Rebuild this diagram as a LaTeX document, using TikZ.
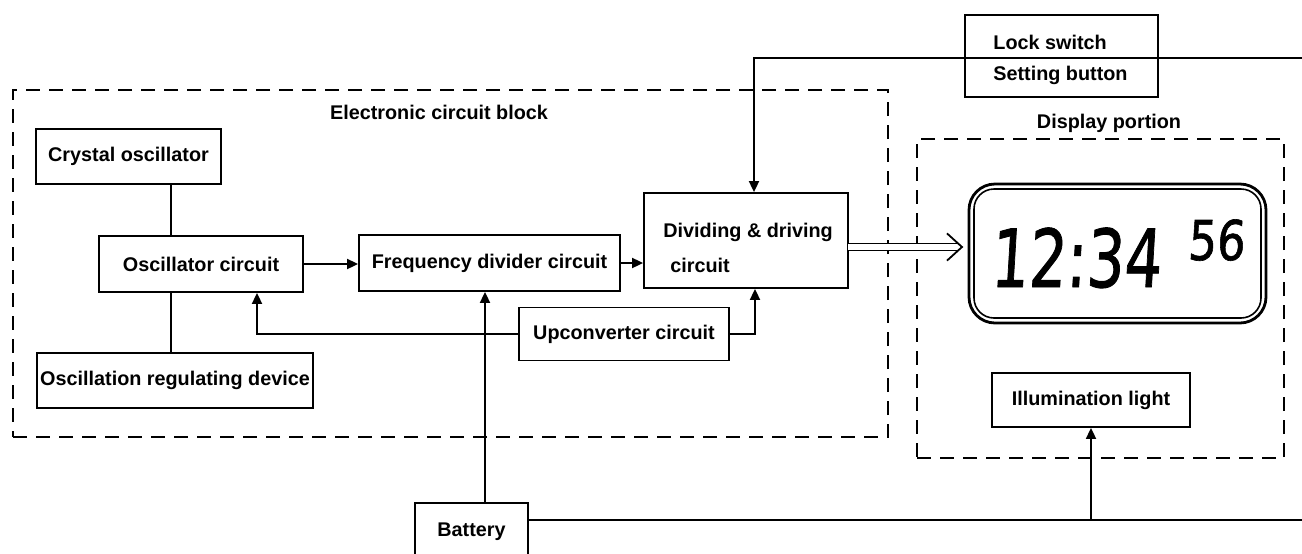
\documentclass[tikz,border=0pt]{standalone}
\usepackage{fontspec}
\setmainfont{Liberation Sans}
\newfontfamily\lcdfont[FakeSlant=0.08,FakeBold=1.2]{DejaVu Sans}
\usetikzlibrary{arrows.meta,calc}
\begin{document}
\begin{tikzpicture}[x=0.5pt,y=-0.5pt,
 every node/.style={font=\fontsize{9.9}{11.8}\selectfont\bfseries},
 box/.style={draw,line width=0.9pt,inner sep=0pt},
 dbox/.style={draw,line width=0.8pt,dash pattern=on 7pt off 4.5pt},
 conn/.style={line width=0.9pt},
 arr/.style={conn,-{Triangle[length=5.5pt,width=5pt]}},
 dblshaft/.style={double,double distance=2.6pt,line width=0.8pt},
 lbl/.style={inner sep=0pt},
 lcdtext/.style={anchor=base west,inner sep=0pt},
]
\useasboundingbox (0,0) rectangle (1302,553);

% dashed groups
\node[dbox,minimum width=437.5pt,minimum height=173.5pt] (ecb) at (450.5,263.5) {};
\node[lbl] (ecbt) at (439,112) {Electronic circuit block};
\node[dbox,minimum width=183.5pt,minimum height=159.5pt] (disp) at (1100.5,298.5) {};
\node[lbl] (dispt) at (1109,123) {Display portion};

% blocks
\node[box,minimum width=92.5pt,minimum height=27.5pt] (crys) at (128.5,156.5) {Crystal oscillator};
\node[box,minimum width=102pt,minimum height=28pt] (osc) at (201,264) {Oscillator circuit};
\node[box,minimum width=138pt,minimum height=27.5pt] (reg) at (175,380.5) {Oscillation regulating device};
\node[box,minimum width=130.5pt,minimum height=28pt] (freq) at (489.5,263) {Frequency divider circuit};
\node[box,minimum width=102pt,minimum height=47.5pt] (div) at (746,240.5) {};
\node[lbl,anchor=base west] (divt1) at (663,237) {Dividing \& driving};
\node[lbl,anchor=base west] (divt2) at (670,272) {circuit};
\node[box,minimum width=105pt,minimum height=26.5pt] (up) at (624,334) {Upconverter circuit};
\node[box,minimum width=56.5pt,minimum height=29pt] (bat) at (471.5,532) {Battery};
\node[box,minimum width=96.5pt,minimum height=41pt] (lock) at (1061.5,56) {};
\node[lbl,anchor=west] (lockt) at (993,42) {Lock switch};
\node[lbl,anchor=west] (sett) at (993,75) {Setting button};
\node[box,minimum width=99pt,minimum height=27pt] (ill) at (1091,400) {Illumination light};

% LCD
\node[draw,line width=1.4pt,rounded corners=13pt,minimum width=148.5pt,minimum height=69.5pt] (lcd) at (1117.5,253.5) {};
\draw[line width=0.8pt,rounded corners=10pt] ([shift={(3.2pt,-3.2pt)}]lcd.north west) rectangle ([shift={(-3.2pt,3.2pt)}]lcd.south east);
\node[lcdtext,font=\lcdfont\fontsize{40}{40}\selectfont] (big) at (990,287) {\scalebox{0.74}[1]{12:34}};
\node[lcdtext,font=\lcdfont\fontsize{27.4}{28}\selectfont] (small) at (1187,260) {\scalebox{0.82}[1]{56}};

% connectors
\coordinate (lk) at (754,58);
\coordinate (rt) at (1302,58);
\coordinate (bv) at (485,0);
\coordinate (be) at (528,520);
\coordinate (ds) at (848,247);
\coordinate (tip) at (962,247);

\draw[conn] ([xshift=-15pt]osc.north) -- ([xshift=-15pt]osc.north |- crys.south);
\draw[conn] ([xshift=-15pt]osc.south) -- ([xshift=-15pt]osc.south |- reg.north);
\draw[arr] (osc.east) -- (osc.east -| freq.west);
\draw[arr] (freq.east) -- (freq.east -| div.west);
\draw[arr] (rt) -- (lk) -- (lk |- div.north);
\draw[arr] (up.west) -| ([xshift=28pt]osc.south);
\draw[arr] (up.east) -| ([xshift=4.5pt]div.south);
\draw[arr] (bat.north -| bv) -- (freq.south -| bv);
\draw[conn] (be) -- (be -| rt);
\draw[arr] (ill.south |- be) -- (ill.south);
\draw[dblshaft] (ds) -- ([xshift=-2pt]tip);
\draw[line width=0.9pt,line join=miter] ([shift={(-7.5pt,6.8pt)}]tip) -- (tip) -- ([shift={(-7.5pt,-6.8pt)}]tip);
\end{tikzpicture}
\end{document}
